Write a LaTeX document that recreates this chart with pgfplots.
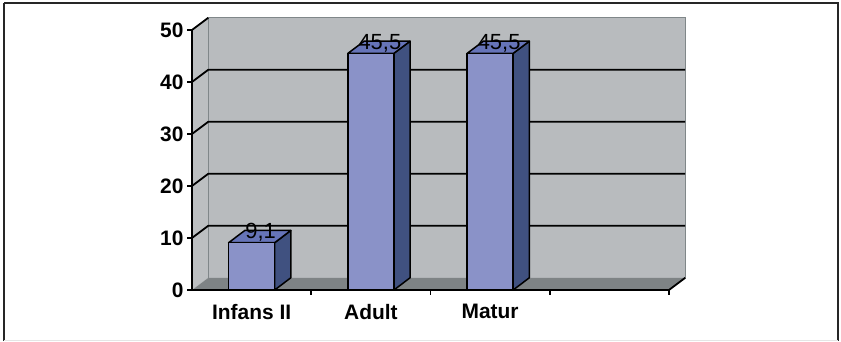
\documentclass[border=0pt]{standalone}
\usepackage{pgfplots}
\pgfplotsset{compat=1.18}
\usepackage{fontspec}
\setmainfont{Liberation Sans}
\definecolor{wall}{RGB}{184,187,190}
\definecolor{sidewall}{RGB}{188,191,193}
\definecolor{floorc}{RGB}{126,131,133}
\definecolor{wedge}{RGB}{128,135,137}
\definecolor{barfront}{RGB}{138,146,200}
\definecolor{bartop}{RGB}{102,116,184}
\definecolor{barside}{RGB}{64,81,128}
\begin{document}
\begin{tikzpicture}
\path[use as bounding box] (0,0) rectangle (841bp,342bp);
\begin{axis}[
  at={(192bp,52bp)}, anchor=south west,
  scale only axis, width=477bp, height=260bp,
  xmin=0, xmax=4, ymin=0, ymax=50,
  clip=false, axis on top,
  axis x line*=bottom, axis y line*=left,
  axis line style={-, line width=1.8bp, black},
  tick align=outside, major tick length=5bp,
  tick style={black, line width=1.8bp},
  ytick={0,10,20,30,40,50},
  xtick={1,2,3,4}, xticklabels={},
  extra x ticks={0.5,1.5,2.5},
  extra x tick labels={Infans II, Adult, Matur},
  extra x tick style={major tick length=0pt},
  /pgf/number format/assume math mode=true,
  tick label style={font=\fontsize{21}{22}\selectfont\bfseries},
  yticklabel style={xshift=0bp},
  xticklabel style={yshift=-11bp},
]
% walls and floor
\addplot[draw=none, fill=wall] coordinates {(0.136,2.35)(4.136,2.35)(4.136,52.35)(0.136,52.35)} --cycle;
\addplot[draw=none, fill=sidewall] coordinates {(0,0)(0.136,2.35)(0.136,52.35)(0,50)} --cycle;
\addplot[draw=none, fill=floorc] coordinates {(0,0)(4,0)(4.136,2.35)(0.136,2.35)} --cycle;
\addplot[wedge, line width=1.2bp] coordinates {(0.136,2.35)(0.136,52.35)(4.136,52.35)(4.136,2.35)};
% gridlines
\addplot[black, line width=1.8bp] coordinates {(0,10)(0.136,12.35)(4.136,12.35)};
\addplot[black, line width=1.8bp] coordinates {(0,20)(0.136,22.35)(4.136,22.35)};
\addplot[black, line width=1.8bp] coordinates {(0,30)(0.136,32.35)(4.136,32.35)};
\addplot[black, line width=1.8bp] coordinates {(0,40)(0.136,42.35)(4.136,42.35)};
\addplot[black, line width=1.8bp] coordinates {(0,50)(0.136,52.35)};
\addplot[black, line width=1.8bp] coordinates {(4,0)(4.136,2.35)};
% bar sides and tops
\addplot[draw=black, line width=1.5bp, fill=barside, line join=round] coordinates {(0.6929,0)(0.8289,2.35)(0.8289,11.45)(0.6929,9.1)} --cycle;
\addplot[draw=black, line width=1.5bp, fill=bartop, line join=round] coordinates {(0.3071,9.1)(0.6929,9.1)(0.8289,11.45)(0.4431,11.45)} --cycle;
\addplot[draw=black, line width=1.5bp, fill=barside, line join=round] coordinates {(1.6929,0)(1.8289,2.35)(1.8289,47.85)(1.6929,45.5)} --cycle;
\addplot[draw=black, line width=1.5bp, fill=bartop, line join=round] coordinates {(1.3071,45.5)(1.6929,45.5)(1.8289,47.85)(1.4431,47.85)} --cycle;
\addplot[draw=black, line width=1.5bp, fill=barside, line join=round] coordinates {(2.6929,0)(2.8289,2.35)(2.8289,47.85)(2.6929,45.5)} --cycle;
\addplot[draw=black, line width=1.5bp, fill=bartop, line join=round] coordinates {(2.3071,45.5)(2.6929,45.5)(2.8289,47.85)(2.4431,47.85)} --cycle;
% bar fronts
\addplot[ybar, bar width=46bp, draw=black, line width=1.5bp, fill=barfront,
  point meta=explicit symbolic, nodes near coords,
  nodes near coords style={anchor=base, yshift=4bp, xshift=9bp, font=\fontsize{22}{23}\selectfont, text=black}]
  coordinates {(0.5,9.1)[9{,}1] (1.5,45.5)[45{,}5] (2.5,45.5)[45{,}5]};
\end{axis}
\draw[line width=2bp, color=black!85] (4bp,1bp) -- (4bp,339bp);
\draw[line width=2bp, color=black!85] (4bp,339bp) -- (838bp,339bp) -- (838bp,1bp);
\draw[line width=0.8bp, color=black!10] (4bp,1.5bp) -- (838bp,1.5bp);
\end{tikzpicture}
\end{document}
